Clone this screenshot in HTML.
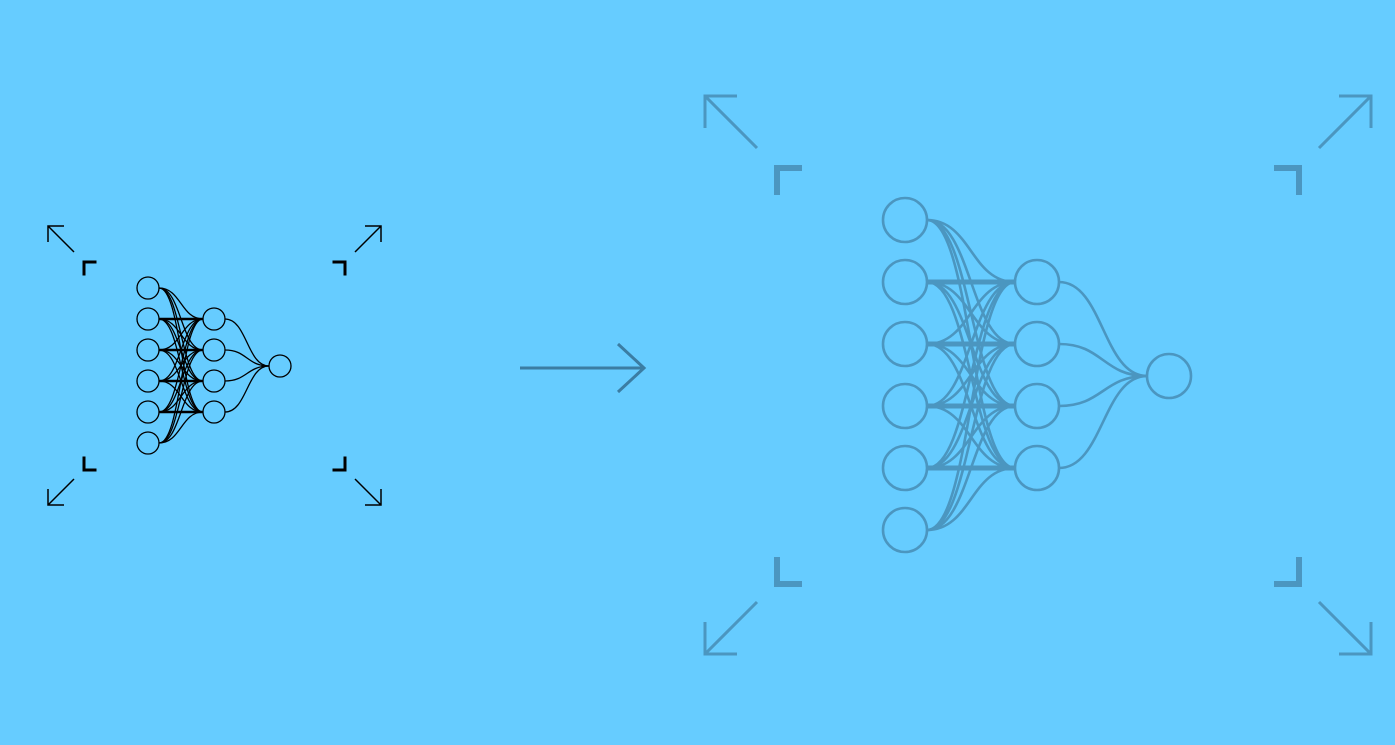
<!DOCTYPE html>
<html><head><meta charset="utf-8"><style>html,body{margin:0;padding:0;background:#66ccff;}svg{display:block}</style></head>
<body>
<svg width="1395" height="745" viewBox="0 0 1395 745">
<rect width="1395" height="745" fill="#66ccff"/>
<g id="small" stroke="#000" fill="none"></g>
<g id="big" stroke="#4b96c0" fill="none" transform="translate(609,-356) scale(2)"></g>
<g stroke="#3b7da3" stroke-width="3" fill="none">
<line x1="520" y1="368" x2="644" y2="368"/>
<polyline points="618,344 644,368 618,392"/>
</g>
</svg>
<script>
const inputY=[288,319,350,381,412,443];
const hiddenY=[319,350,381,412];
const outputY=[366];
const inX=148, hidX=214, outX=280, R=11;
const NS='http://www.w3.org/2000/svg';
function mk(t,a,p){const e=document.createElementNS(NS,t);for(const k in a)e.setAttribute(k,a[k]);p.appendChild(e);return e;}
function build(g){
  const w=1.3;
  inputY.forEach(y1=>hiddenY.forEach(y2=>{
    const x1=inX+R,x2=hidX-R,m=(x1+x2)/2;
    const p=mk('path',{d:`M${x1},${y1} C${m},${y1} ${m},${y2} ${x2},${y2}`,'stroke-width':y1===y2?2.5:w},g);
    
    
  }));
  hiddenY.forEach(y1=>outputY.forEach(y2=>{
    const x1=hidX+R,x2=outX-R,m=(x1+x2)/2;
    const p=mk('path',{d:`M${x1},${y1} C${m},${y1} ${m},${y2} ${x2},${y2}`,'stroke-width':w},g);
    
    
  }));
  [[inX,inputY,'input-node'],[hidX,hiddenY,'hidden-node'],[outX,outputY,'output-node']].forEach(([x,ys,n])=>ys.forEach(y=>{
    const c=mk('circle',{cx:x,cy:y,r:R,'stroke-width':1.3,fill:'#66ccff'},g);
    
    
  }));
  const br=[[84,262,1,1],[345,262,-1,1],[84,470,1,-1],[345,470,-1,-1]];
  br.forEach(([x,y,dx,dy])=>{
    const p=mk('polyline',{points:`${x+dx*11},${y} ${x},${y} ${x},${y+dy*12}`,'stroke-width':3,'stroke-linecap':'square'},g);
    
    
  });
  const ar=[[48,226,1,1],[381,226,-1,1],[48,505,1,-1],[381,505,-1,-1]];
  ar.forEach(([x,y,dx,dy])=>{
    const p=mk('path',{d:`M${x+dx*26},${y+dy*26} L${x},${y} M${x+dx*16},${y} L${x},${y} L${x},${y+dy*16}`,'stroke-width':1.5},g);
    
    
  });
}
build(document.getElementById('small'));
build(document.getElementById('big'));
</script>
</body></html>
